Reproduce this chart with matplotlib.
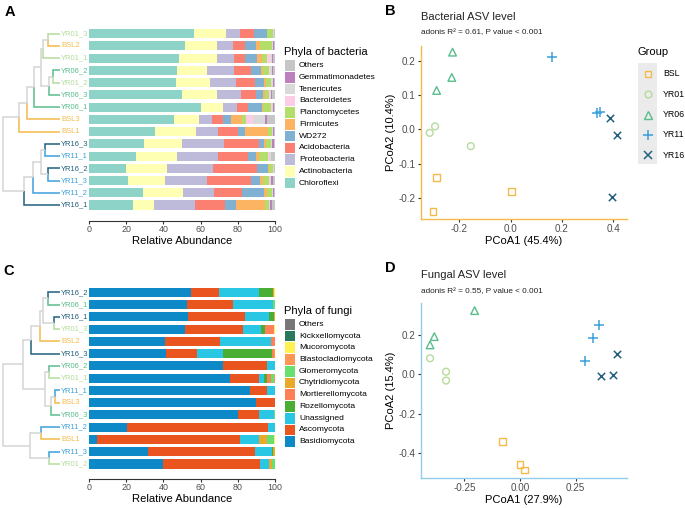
import numpy as np
import matplotlib.pyplot as plt
from matplotlib.patches import Rectangle
from matplotlib.lines import Line2D

plt.rcParams['font.family'] = ['Liberation Sans', 'DejaVu Sans']
plt.rcParams['axes.unicode_minus'] = False

W, H = 685, 508

groups = ['BSL', 'YR01', 'YR06', 'YR11', 'YR16']
group_colors = ['#F4BA4C', '#B5DB9C', '#5BBD8C', '#3C9FDB', '#22607E']
group_markers = ['s', 'o', '^', '+', 'x']

# ---- bacteria composition (panel A), samples listed top to bottom
bac_samples = ['YR01_3', 'BSL2', 'YR01_1', 'YR06_2', 'YR01_2', 'YR06_3', 'YR06_1', 'BSL3',
               'BSL1', 'YR16_3', 'YR11_1', 'YR16_2', 'YR11_3', 'YR11_2', 'YR16_1']
bac_phyla = ['Chloroflexi', 'Actinobacteria', 'Proteobacteria', 'Acidobacteria', 'WD272',
             'Firmicutes', 'Planctomycetes', 'Bacteroidetes', 'Tenericutes', 'Gemmatimonadetes', 'Others']
bac_colors = ['#8DD3C7', '#FFFFB3', '#BEBADA', '#FB8072', '#80B1D3',
              '#FDB462', '#B3DE69', '#FCCDE5', '#D9D9D9', '#BC80BD', '#C6C6C6']
bac_abund = [
    [56.5, 17.0, 7.7, 7.3, 7.0, 0.4, 2.8, 0.3, 0.3, 0.2, 0.5],
    [51.6, 17.4, 8.2, 6.7, 5.9, 2.1, 6.3, 0.3, 0.4, 0.5, 0.6],
    [48.4, 20.6, 9.0, 5.9, 6.2, 2.7, 2.9, 2.1, 0.8, 0.4, 1.0],
    [47.1, 16.2, 14.7, 8.9, 5.4, 1.4, 2.9, 0.5, 1.2, 0.5, 1.2],
    [46.6, 18.5, 13.8, 10.3, 4.9, 1.1, 2.5, 0.3, 0.7, 0.5, 0.8],
    [50.0, 19.0, 12.9, 7.7, 4.1, 0.9, 2.4, 0.3, 0.8, 0.4, 1.5],
    [60.4, 11.5, 7.8, 6.0, 7.3, 0.4, 4.4, 0.4, 0.6, 0.4, 0.8],
    [45.5, 13.5, 7.3, 5.9, 4.0, 5.9, 2.1, 3.8, 6.6, 0.9, 4.5],
    [35.7, 21.8, 12.0, 10.8, 3.6, 12.5, 1.8, 0.2, 0.4, 0.6, 0.6],
    [29.6, 20.4, 22.6, 18.8, 2.9, 0.7, 2.7, 0.3, 0.6, 0.6, 0.8],
    [25.1, 22.4, 21.8, 16.3, 4.1, 1.9, 4.5, 0.5, 1.0, 0.5, 1.9],
    [19.9, 22.2, 24.7, 23.7, 5.6, 0.9, 1.7, 0.2, 0.3, 0.5, 0.3],
    [21.1, 19.9, 22.3, 23.8, 4.8, 1.8, 3.3, 0.3, 0.7, 0.8, 1.2],
    [29.2, 21.5, 16.7, 14.7, 12.2, 1.2, 2.7, 0.3, 0.3, 0.5, 0.7],
    [23.5, 11.6, 21.9, 16.3, 5.6, 15.7, 2.0, 0.2, 0.5, 0.9, 1.8],
]
# clustering: (child, child, height)
bac_merges = [
    ('YR01_3', 'BSL2', 0.12), ('n0', 'YR01_1', 0.17), ('YR06_2', 'YR01_2', 0.07),
    ('n2', 'YR06_3', 0.11), ('n1', 'n3', 0.19), ('n4', 'YR06_1', 0.26), ('n5', 'BSL3', 0.33),
    ('n6', 'BSL1', 0.41), ('YR16_3', 'YR11_1', 0.15), ('YR16_2', 'YR11_3', 0.12),
    ('n8', 'n9', 0.19), ('n10', 'YR11_2', 0.27), ('n11', 'YR16_1', 0.36), ('n7', 'n12', 0.57),
]

# ---- fungi composition (panel C)
fun_samples = ['YR16_2', 'YR06_1', 'YR16_1', 'YR01_3', 'BSL2', 'YR16_3', 'YR06_2', 'YR01_1',
               'YR11_1', 'BSL3', 'YR06_3', 'YR11_2', 'BSL1', 'YR11_3', 'YR01_2']
fun_phyla = ['Basidiomycota', 'Ascomycota', 'Unassigned', 'Rozellomycota', 'Mortierellomycota',
             'Chytridiomycota', 'Glomeromycota', 'Blastocladiomycota', 'Mucoromycota',
             'Kickxellomycota', 'Others']
fun_colors = ['#0E89C8', '#E9541F', '#29C7E3', '#4BAE34', '#FF7F57',
              '#E9AA2B', '#68E06F', '#FF9656', '#FFF152', '#2A775B', '#777777']
fun_abund = [
    [54.8, 15.1, 21.5, 7.7, 0.0, 0.5, 0.0, 0.0, 0.4, 0.0, 0.0],
    [52.5, 24.9, 21.5, 0.0, 0.0, 0.0, 1.1, 0.0, 0.0, 0.0, 0.0],
    [53.0, 30.7, 13.1, 2.7, 0.0, 0.5, 0.0, 0.0, 0.0, 0.0, 0.0],
    [51.6, 31.0, 9.7, 2.5, 4.5, 0.4, 0.0, 0.0, 0.3, 0.0, 0.0],
    [40.9, 29.5, 27.4, 0.0, 2.2, 0.0, 0.0, 0.0, 0.0, 0.0, 0.0],
    [41.4, 16.8, 14.0, 26.0, 1.5, 0.3, 0.0, 0.0, 0.0, 0.0, 0.0],
    [72.2, 23.7, 4.1, 0.0, 0.0, 0.0, 0.0, 0.0, 0.0, 0.0, 0.0],
    [75.8, 15.8, 2.3, 2.0, 1.9, 0.3, 1.5, 0.2, 0.0, 0.2, 0.0],
    [86.6, 9.3, 3.9, 0.2, 0.0, 0.0, 0.0, 0.0, 0.0, 0.0, 0.0],
    [89.6, 10.4, 0.0, 0.0, 0.0, 0.0, 0.0, 0.0, 0.0, 0.0, 0.0],
    [80.0, 11.6, 8.0, 0.0, 0.0, 0.0, 0.4, 0.0, 0.0, 0.0, 0.0],
    [20.6, 75.8, 3.6, 0.0, 0.0, 0.0, 0.0, 0.0, 0.0, 0.0, 0.0],
    [4.3, 76.9, 10.2, 0.0, 0.0, 4.5, 3.6, 0.0, 0.5, 0.0, 0.0],
    [31.9, 57.2, 9.1, 0.9, 0.0, 0.9, 0.0, 0.0, 0.0, 0.0, 0.0],
    [39.6, 52.3, 5.0, 0.0, 0.0, 1.5, 1.6, 0.0, 0.0, 0.0, 0.0],
]
fun_merges = [
    ('YR16_2', 'YR06_1', 0.12), ('YR16_1', 'YR01_3', 0.06), ('n0', 'n1', 0.17),
    ('n2', 'BSL2', 0.20), ('n3', 'YR16_3', 0.29), ('YR06_2', 'YR01_1', 0.11),
    ('YR11_1', 'BSL3', 0.05), ('n6', 'YR06_3', 0.09), ('n5', 'n7', 0.15), ('n4', 'n8', 0.37),
    ('YR11_2', 'BSL1', 0.19), ('YR11_3', 'YR01_2', 0.11), ('n10', 'n11', 0.30), ('n9', 'n12', 0.57),
]

# ---- PCoA scores
bac_pc_group = ['BSL'] * 3 + ['YR01'] * 3 + ['YR06'] * 3 + ['YR11'] * 3 + ['YR16'] * 3
bac_pc1 = [-0.288, -0.302, 0.003, -0.315, -0.294, -0.155, -0.226, -0.229, -0.288,
           0.162, 0.338, 0.348, 0.387, 0.416, 0.394]
bac_pc2 = [-0.140, -0.240, -0.181, -0.010, 0.009, -0.049, 0.226, 0.152, 0.114,
           0.212, 0.048, 0.052, 0.033, -0.015, -0.199]
fun_pc_group = bac_pc_group
fun_pc1 = [-0.078, 0.000, 0.021, -0.404, -0.332, -0.332, -0.204, -0.385, -0.404,
           0.356, 0.328, 0.293, 0.436, 0.365, 0.419]
fun_pc2 = [-0.342, -0.460, -0.486, 0.081, 0.013, -0.032, 0.323, 0.191, 0.149,
           0.250, 0.183, 0.067, 0.103, -0.010, -0.004]


def fx(px):
    return px / W


def fy(py):
    return 1 - py / H


def box(l, t, r, b):
    return [fx(l), fy(b), (r - l) / W, (b - t) / H]


def group_of(sample):
    return sample.split('_')[0] if '_' in sample else sample[:3]


gcol = dict(zip(groups, group_colors))
gmark = dict(zip(groups, group_markers))

fig = plt.figure(figsize=(W / 100, H / 100), dpi=100)


def tree(ax, leaves, merges):
    ypos = {s: i for i, s in enumerate(leaves)}
    xpos = {s: 0.0 for s in leaves}
    for k, (a, b, h) in enumerate(merges):
        node = 'n%d' % k
        ynode = (ypos[a] + ypos[b]) / 2
        for c in (a, b):
            col = gcol[group_of(c)] if c in leaves else '#D4D4D4'
            ax.plot([h, h, xpos[c]], [ynode, ypos[c], ypos[c]], color=col, lw=1.1,
                    solid_capstyle='butt', solid_joinstyle='miter')
        ypos[node] = ynode
        xpos[node] = h
    for i, s in enumerate(leaves):
        ax.text(-0.013, i, s, color=gcol[group_of(s)], fontsize=5.5, va='center', ha='left')


def stacked(top, bottom, y0, y1, samples, abund, phyla, colors, merges):
    n = len(samples)
    step = (y1 - y0) / (n - 1)
    ylo = (n - 1) + (bottom - y1) / step
    yhi = -(y0 - top) / step
    axd = fig.add_axes(box(0, top, 89, bottom))
    axd.set_xlim(0.60, -0.29)
    axd.set_ylim(ylo, yhi)
    axd.axis('off')
    tree(axd, samples, merges)

    ax = fig.add_axes(box(89, top, 275, bottom))
    ax.patch.set_alpha(0)
    vals = np.array(abund)
    y = np.arange(n)
    left = np.zeros(n)
    for j, p in enumerate(phyla):
        ax.barh(y, vals[:, j], left=left, height=0.74, color=colors[j], label=p)
        left += vals[:, j]
    ax.set_xlim(0, 100)
    ax.set_ylim(ylo, yhi)
    ax.set_yticks([])
    for s in ['left', 'right', 'top']:
        ax.spines[s].set_visible(False)
    ax.spines['bottom'].set_color('#333333')
    ax.spines['bottom'].set_linewidth(0.8)
    ax.set_xticks([0, 20, 40, 60, 80, 100])
    ax.tick_params(axis='x', labelsize=6.4, labelcolor='#4D4D4D', length=2, width=0.8,
                   color='#333333', pad=1)
    ax.set_xlabel('Relative Abundance', fontsize=8.1, labelpad=1.5)
    return ax


def phyla_legend(title, tx, ty, first, phyla, colors):
    fig.text(fx(tx), fy(ty), title, fontsize=8, va='center', ha='left')
    for i, (p, c) in enumerate(zip(phyla[::-1], colors[::-1])):
        yc = first + i * 11.74
        fig.add_artist(Rectangle((fx(tx), fy(yc + 5.3)), 10.8 / W, 10.6 / H,
                                 transform=fig.transFigure, color=c, lw=0))
        fig.text(fx(tx + 14.5), fy(yc), p, fontsize=6.1, va='center', ha='left')


def pcoa(top, bottom, pc1, pc2, grp, spine, xlim, ylim, xticks, yticks, xfmt, xlabel, ylabel,
         title, sub, title_y, sub_y):
    ax = fig.add_axes(box(420.7, top, 626.7, bottom))
    for g in groups:
        xs = [a for a, k in zip(pc1, grp) if k == g]
        ys = [b for b, k in zip(pc2, grp) if k == g]
        m = gmark[g]
        if m in '+x':
            ax.scatter(xs, ys, marker=m, color=gcol[g], s=45 if m == '+' else 28, lw=1.1)
        else:
            ax.scatter(xs, ys, marker=m, facecolors='none', edgecolors=gcol[g],
                       s=30 if m == '^' else 24, lw=1.0)
    ax.set_xlim(*xlim)
    ax.set_ylim(*ylim)
    ax.set_xticks(xticks)
    ax.set_xticklabels([xfmt % v for v in xticks])
    ax.set_yticks(yticks)
    ax.set_yticklabels(['%.1f' % v if abs(v) > 1e-9 else '0.0' for v in yticks])
    for s in ['right', 'top']:
        ax.spines[s].set_visible(False)
    for s in ['left', 'bottom']:
        ax.spines[s].set_color(spine)
        ax.spines[s].set_linewidth(1.0)
    ax.tick_params(labelsize=7.1, labelcolor='#4D4D4D', length=2, width=0.8, color='#333333', pad=1.5)
    ax.set_xlabel(xlabel, fontsize=8, labelpad=1.5)
    ax.set_ylabel(ylabel, fontsize=8, labelpad=2)
    fig.text(fx(421), fy(title_y), title, fontsize=8, va='center', ha='left', color='#222222')
    fig.text(fx(421), fy(sub_y), sub, fontsize=5.9, va='center', ha='left', color='#222222')
    return ax


# panel A / C
stacked(26.4, 220.7, 33.7, 205.0, bac_samples, bac_abund, bac_phyla, bac_colors, bac_merges)
phyla_legend('Phyla of bacteria', 284.5, 52.3, 65.7, bac_phyla, bac_colors)
stacked(285.0, 479.0, 292.3, 464.0, fun_samples, fun_abund, fun_phyla, fun_colors, fun_merges)
phyla_legend('Phyla of fungi', 284.5, 311.0, 324.3, fun_phyla, fun_colors)

# panel B / D
pcoa(46, 219, bac_pc1, bac_pc2, bac_pc_group, '#F4BA4C', (-0.350, 0.452), (-0.262, 0.244),
     [-0.2, 0.0, 0.2, 0.4], [-0.2, -0.1, 0.0, 0.1, 0.2], '%.1f',
     'PCoA1 (45.4%)', 'PCoA2 (10.4%)', 'Bacterial ASV level',
     'adonis R\u00b2 = 0.61, P value < 0.001', 16.7, 32.3)
pcoa(303.3, 478.3, fun_pc1, fun_pc2, fun_pc_group, '#93CDEE', (-0.446, 0.479), (-0.528, 0.360),
     [-0.25, 0.0, 0.25], [-0.4, -0.2, 0.0, 0.2], '%.2f',
     'PCoA1 (27.9%)', 'PCoA2 (15.4%)', 'Fungal ASV level',
     'adonis R\u00b2 = 0.55, P value < 0.001', 275.0, 291.7)

# group legend for PCoA
fig.text(fx(637), fy(52), 'Group', fontsize=8, va='center', ha='left')
fig.add_artist(Rectangle((fx(637.7), fy(164)), 19.6 / W, 100.7 / H, transform=fig.transFigure,
                         color='#EBEBEB', lw=0, zorder=-1))
for i, g in enumerate(groups):
    yc = 74 + i * 20.3
    m = gmark[g]
    if m in '+x':
        fig.add_artist(Line2D([fx(647.5)], [fy(yc)], marker=m, color=gcol[g], ms=7 if m == '+' else 5.3,
                              mew=1.1, ls='none', transform=fig.transFigure))
    else:
        fig.add_artist(Line2D([fx(647.5)], [fy(yc)], marker=m, mfc='none', mec=gcol[g],
                              ms=5.5 if m == '^' else 4.9, mew=1.0, ls='none', transform=fig.transFigure))
    fig.text(fx(663), fy(yc), g, fontsize=6.3, va='center', ha='left')

# panel letters
for lab, px, py in [('A', 9.5, 11.5), ('B', 390.5, 11.2), ('C', 9.0, 271.3), ('D', 390, 268)]:
    fig.text(fx(px), fy(py), lab, fontsize=10.5, fontweight='bold', va='center', ha='center')

fig.savefig('out.png', dpi=100)
